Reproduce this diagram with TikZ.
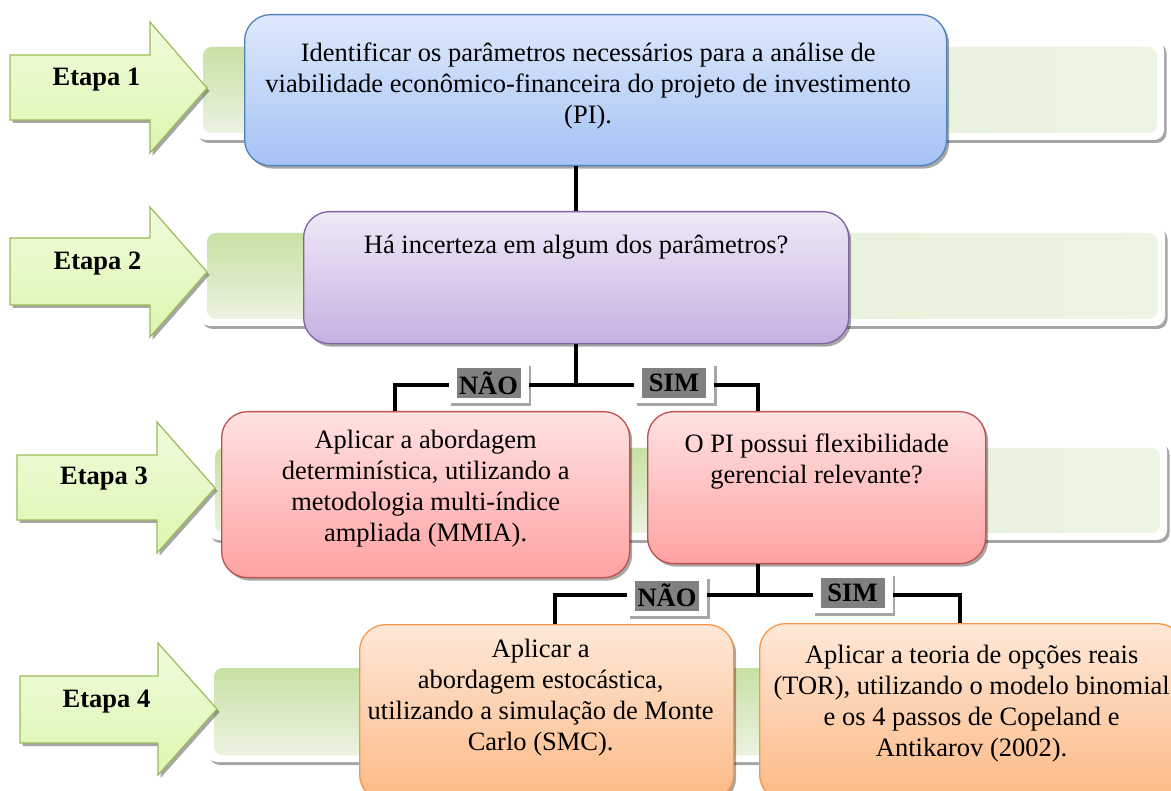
\documentclass[tikz,border=0pt]{standalone}
\usepackage{fontspec}
\setmainfont{Liberation Serif}
\usetikzlibrary{shadows}
\definecolor{blueT}{HTML}{DFE9FC}
\definecolor{blueB}{HTML}{A4C2F4}
\definecolor{blueD}{HTML}{4F81BD}
\definecolor{purT}{HTML}{EFE9F7}
\definecolor{purB}{HTML}{C6B1E1}
\definecolor{purD}{HTML}{8064A2}
\definecolor{pinkT}{HTML}{FFE2E2}
\definecolor{pinkB}{HTML}{FFA2A2}
\definecolor{pinkD}{HTML}{C0504D}
\definecolor{oraT}{HTML}{FEE8D8}
\definecolor{oraB}{HTML}{FCB985}
\definecolor{oraD}{HTML}{F79646}
\definecolor{arrT}{HTML}{F0FCDC}
\definecolor{arrB}{HTML}{DCF6B0}
\definecolor{arrD}{HTML}{9BBB59}
\definecolor{barT}{HTML}{C8E0A3}
\definecolor{barB}{HTML}{EBF3E1}
\definecolor{paleL}{HTML}{E3EED4}
\definecolor{paleR}{HTML}{ECF4E2}
\definecolor{lblgray}{HTML}{808080}
\tikzset{
  shd/.style={drop shadow={shadow xshift=2.5pt, shadow yshift=-3pt, fill=black, opacity=.35}},
  mainbox/.style={draw, line width=1.3pt, rounded corners=26pt, inner sep=0pt, shd, anchor=north west},
  bluebox/.style={mainbox, draw=blueD, top color=blueT, bottom color=blueB},
  purbox/.style={mainbox, draw=purD, top color=purT, bottom color=purB},
  pinkbox/.style={mainbox, draw=pinkD, top color=pinkT, bottom color=pinkB},
  orabox/.style={mainbox, draw=oraD, top color=oraT, bottom color=oraB},
  arr/.style={draw=arrD, line width=1.2pt, top color=arrT, bottom color=arrB, shd, line join=miter},
  etapa/.style={font=\fontsize{26.5}{31}\selectfont\bfseries, anchor=base, inner sep=0pt},
  conn/.style={line width=4pt, black, line join=miter},
  lbl/.style={fill=white, minimum width=80pt, minimum height=40pt, inner sep=0pt, shd,
    font=\fontsize{26.5}{31}\selectfont\bfseries,
    path picture={\fill[lblgray] ([xshift=8pt,yshift=5pt]path picture bounding box.south west) rectangle ([xshift=-8pt,yshift=-5pt]path picture bounding box.north east);}}
}
\newcommand{\boxtxt}[5]{\parbox[c][#2][t]{#1}{\centering\rightskip=#4 plus 1fil\relax\vspace*{#3}\strut #5}}
\newcommand{\gbar}[4]{%
  \path[fill=white, rounded corners=10pt, shd] (#1-7,#2-7) rectangle (#3+7,#4+7);
  \begin{scope}
    \clip[rounded corners=9pt] (#1,#2) rectangle (#3,#4);
    \shade[left color=paleL, right color=paleR] (#1,#2) rectangle (#3,#4);
    \shade[top color=barT, bottom color=barB] (#1,#2) rectangle (#1+560,#4);
  \end{scope}}
\begin{document}
\begin{tikzpicture}[x=1pt,y=-1pt,font=\fontsize{26.5}{31}\selectfont]
\useasboundingbox (0,0) rectangle (1171,791);
% background bars
\gbar{203}{47}{1157}{133}
\gbar{207}{233}{1158}{319}
\gbar{215}{448}{1160}{533}
\gbar{214}{668}{1160}{755}
% stage arrows
\draw[arr] (10,55) -- (150,55) -- (150,22) -- (207,88) -- (150,153) -- (150,120) -- (10,120) -- cycle;
\draw[arr] (10,238) -- (150,238) -- (150,207) -- (207,272) -- (150,337) -- (150,305) -- (10,305) -- cycle;
\draw[arr] (17,455) -- (157,455) -- (157,422) -- (215,488) -- (157,553) -- (157,520) -- (17,520) -- cycle;
\draw[arr] (20,676) -- (158,676) -- (158,643) -- (217,709) -- (158,775) -- (158,743) -- (20,743) -- cycle;
\node[etapa] (e1) at (96.5,86) {Etapa 1};
\node[etapa] (e2) at (97.5,270) {Etapa 2};
\node[etapa] (e3) at (104,485) {Etapa 3};
\node[etapa] (e4) at (106.5,707) {Etapa 4};
% coordinates for connectors
\coordinate (j1) at (576,385);
\coordinate (l1) at (395,385);
\coordinate (r1) at (758,385);
\coordinate (j2) at (758,595);
\coordinate (l2) at (555,595);
\coordinate (r2) at (960,595);
% main boxes
\node[bluebox] (b1) at (244,14) {\boxtxt{702pt}{151pt}{25.3pt}{15pt}{Identificar os parâmetros necessários para a análise de\\viabilidade econômico-financeira do projeto de investimento\\(PI).}};
\node[purbox] (b2) at (303,211) {\boxtxt{545pt}{132pt}{20.3pt}{0pt}{Há incerteza em algum dos parâmetros?}};
\draw[conn] (b1.south -| j1) -- (b2.north -| j1);
\node[pinkbox] (b3a) at (221,411) {\boxtxt{408pt}{166pt}{14.8pt}{0pt}{Aplicar a abordagem\\determinística, utilizando a\\metodologia multi-índice\\ampliada (MMIA).}};
\node[pinkbox] (b3b) at (647,411) {\boxtxt{338pt}{152pt}{19.3pt}{0pt}{O PI possui flexibilidade\\gerencial relevante?}};
\draw[conn] (b2.south -| j1) -- (j1);
\draw[conn] (l1 |- b3a.north) -- (l1) -- (r1) -- (r1 |- b3b.north);
\node[orabox] (b4a) at (359,624) {\boxtxt{374pt}{176pt}{11.3pt}{12pt}{Aplicar a\\abordagem estocástica,\\utilizando a simulação de Monte\\Carlo (SMC).}};
\node[orabox] (b4b) at (759,623) {\boxtxt{424pt}{177pt}{18.3pt}{0pt}{Aplicar a teoria de opções reais\\(TOR), utilizando o modelo binomial\\e os 4 passos de Copeland e\\Antikarov (2002).}};
\draw[conn] (b3b.south -| j2) -- (j2);
\draw[conn] (l2 |- b4a.north) -- (l2) -- (r2) -- (r2 |- b4b.north);
% labels
\node[lbl] (nao1) at (488.5,383) {NÃO};
\node[lbl] (sim1) at (674,383) {SIM};
\node[lbl] (nao2) at (667,595.5) {NÃO};
\node[lbl] (sim2) at (852.5,593) {SIM};
\end{tikzpicture}
\end{document}
